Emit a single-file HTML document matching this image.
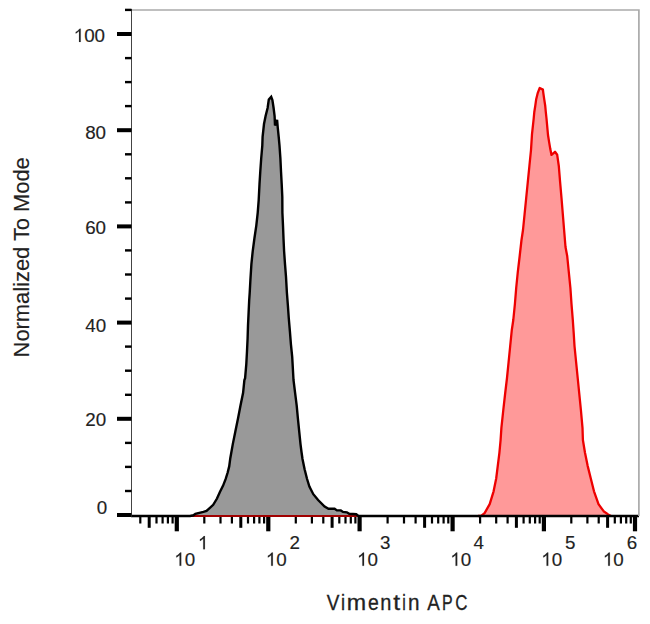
<!DOCTYPE html>
<html><head><meta charset="utf-8"><style>
html,body{margin:0;padding:0;background:#fff;width:650px;height:624px;overflow:hidden}
svg{display:block;font-family:"Liberation Sans",sans-serif}
</style></head><body>
<svg width="650" height="624" viewBox="0 0 650 624">
<rect x="131.5" y="10" width="507.5" height="506" fill="#fff" stroke="none"/>
<polygon points="131.0,516.0 190.0,516.0 193.5,515.3 195.4,513.8 203.4,511.9 206.5,511.0 213.2,504.8 217.0,498.5 219.9,492.0 223.1,485.6 225.6,479.2 227.6,472.8 229.2,466.4 230.3,458.2 232.8,444.1 235.4,431.3 238.0,418.5 240.5,405.6 243.1,392.8 244.4,380.0 245.1,378.2 246.3,364.1 247.0,351.3 247.6,338.5 248.0,325.6 248.6,312.8 249.2,300.0 249.7,292.8 250.4,280.0 251.4,264.1 252.7,251.3 254.4,238.5 256.3,225.6 257.7,212.8 258.7,200.0 259.5,184.1 260.3,171.3 261.2,158.5 262.3,145.6 262.6,136.9 264.0,124.0 265.6,116.0 267.6,108.0 268.8,99.6 271.2,96.8 272.4,100.0 273.6,108.0 274.6,116.0 275.0,125.5 277.1,119.8 277.8,128.0 278.7,136.9 279.5,145.6 280.4,158.5 281.0,171.3 281.7,184.1 282.3,196.9 282.4,212.8 283.0,225.6 283.5,238.5 284.1,251.3 285.0,264.1 286.0,276.9 286.9,292.8 287.9,305.6 288.8,318.5 289.9,331.3 290.9,344.1 292.2,356.9 293.5,380.0 295.1,392.8 296.7,405.6 297.9,418.5 299.2,431.3 300.5,444.1 301.5,452.0 302.5,459.0 304.6,469.2 307.0,478.8 309.4,486.5 313.3,494.2 318.1,500.0 324.6,506.5 328.5,508.8 334.6,508.8 336.9,510.4 340.8,510.4 343.0,511.9 346.9,512.3 349.2,513.8 356.2,514.2 358.5,516.0 365.0,516.0 639.0,516.0" fill="#999999" stroke="none"/>
<polygon points="131.0,516.0 478.0,516.0 481.4,515.6 484.6,513.1 489.7,504.1 493.6,491.3 496.2,478.5 497.8,465.6 499.4,452.8 500.6,440.0 501.4,427.8 503.3,410.0 505.1,394.0 507.0,378.0 508.6,362.0 510.2,346.0 511.8,330.0 513.3,320.0 514.9,304.0 516.2,288.0 517.8,272.0 519.7,256.0 521.5,240.0 523.0,230.0 524.6,214.0 526.2,198.0 527.8,182.0 529.4,166.0 531.0,150.0 532.0,134.1 533.7,118.5 534.3,112.0 535.3,105.6 536.2,99.2 537.8,92.8 539.7,88.0 542.9,89.6 543.3,92.8 544.2,99.2 545.2,105.6 545.8,112.0 546.5,118.5 548.0,135.0 549.0,141.4 550.3,149.1 551.5,154.9 555.0,151.8 557.2,154.8 558.8,166.0 560.1,182.0 561.5,198.0 562.8,214.0 564.1,230.0 565.5,247.0 567.2,256.0 568.8,272.0 570.4,288.0 571.5,304.0 572.8,320.0 573.7,333.0 574.5,346.0 576.1,362.0 577.7,378.0 579.3,394.0 580.9,410.0 582.5,427.8 582.9,440.0 585.0,452.8 587.6,465.6 590.8,478.5 594.0,491.3 598.5,504.1 603.6,511.2 608.1,514.4 611.0,516.0 639.0,516.0" fill="#ff9999" stroke="none"/>
<line x1="131" y1="516" x2="639" y2="516" stroke="#a00000" stroke-width="2.1"/>
<polyline points="478.0,516.0 481.4,515.6 484.6,513.1 489.7,504.1 493.6,491.3 496.2,478.5 497.8,465.6 499.4,452.8 500.6,440.0 501.4,427.8 503.3,410.0 505.1,394.0 507.0,378.0 508.6,362.0 510.2,346.0 511.8,330.0 513.3,320.0 514.9,304.0 516.2,288.0 517.8,272.0 519.7,256.0 521.5,240.0 523.0,230.0 524.6,214.0 526.2,198.0 527.8,182.0 529.4,166.0 531.0,150.0 532.0,134.1 533.7,118.5 534.3,112.0 535.3,105.6 536.2,99.2 537.8,92.8 539.7,88.0 542.9,89.6 543.3,92.8 544.2,99.2 545.2,105.6 545.8,112.0 546.5,118.5 548.0,135.0 549.0,141.4 550.3,149.1 551.5,154.9 555.0,151.8 557.2,154.8 558.8,166.0 560.1,182.0 561.5,198.0 562.8,214.0 564.1,230.0 565.5,247.0 567.2,256.0 568.8,272.0 570.4,288.0 571.5,304.0 572.8,320.0 573.7,333.0 574.5,346.0 576.1,362.0 577.7,378.0 579.3,394.0 580.9,410.0 582.5,427.8 582.9,440.0 585.0,452.8 587.6,465.6 590.8,478.5 594.0,491.3 598.5,504.1 603.6,511.2 608.1,514.4 611.0,516.0" fill="none" stroke="#ee0000" stroke-width="2.3" stroke-linejoin="round"/>
<polyline points="131.0,516.0 190.0,516.0 193.5,515.3 195.4,513.8 203.4,511.9 206.5,511.0 213.2,504.8 217.0,498.5 219.9,492.0 223.1,485.6 225.6,479.2 227.6,472.8 229.2,466.4 230.3,458.2 232.8,444.1 235.4,431.3 238.0,418.5 240.5,405.6 243.1,392.8 244.4,380.0 245.1,378.2 246.3,364.1 247.0,351.3 247.6,338.5 248.0,325.6 248.6,312.8 249.2,300.0 249.7,292.8 250.4,280.0 251.4,264.1 252.7,251.3 254.4,238.5 256.3,225.6 257.7,212.8 258.7,200.0 259.5,184.1 260.3,171.3 261.2,158.5 262.3,145.6 262.6,136.9 264.0,124.0 265.6,116.0 267.6,108.0 268.8,99.6 271.2,96.8 272.4,100.0 273.6,108.0 274.6,116.0 275.0,125.5 277.1,119.8 277.8,128.0 278.7,136.9 279.5,145.6 280.4,158.5 281.0,171.3 281.7,184.1 282.3,196.9 282.4,212.8 283.0,225.6 283.5,238.5 284.1,251.3 285.0,264.1 286.0,276.9 286.9,292.8 287.9,305.6 288.8,318.5 289.9,331.3 290.9,344.1 292.2,356.9 293.5,380.0 295.1,392.8 296.7,405.6 297.9,418.5 299.2,431.3 300.5,444.1 301.5,452.0 302.5,459.0 304.6,469.2 307.0,478.8 309.4,486.5 313.3,494.2 318.1,500.0 324.6,506.5 328.5,508.8 334.6,508.8 336.9,510.4 340.8,510.4 343.0,511.9 346.9,512.3 349.2,513.8 356.2,514.2 358.5,516.0 365.0,516.0 639.0,516.0" fill="none" stroke="#000" stroke-width="2.4" stroke-linejoin="miter" stroke-miterlimit="3"/>
<path d="M131 10 H638.9 V516" fill="none" stroke="#aaaaaa" stroke-width="1.7"/>
<line x1="131.5" y1="9" x2="131.5" y2="517" stroke="#444" stroke-width="1"/>
<rect x="117" y="513.0" width="14.5" height="4" fill="#000"/>
<rect x="125" y="489.8" width="6.5" height="2.4" fill="#000"/>
<rect x="125" y="465.7" width="6.5" height="2.4" fill="#000"/>
<rect x="125" y="441.7" width="6.5" height="2.4" fill="#000"/>
<rect x="117" y="416.8" width="14.5" height="4" fill="#000"/>
<rect x="125" y="393.6" width="6.5" height="2.4" fill="#000"/>
<rect x="125" y="369.5" width="6.5" height="2.4" fill="#000"/>
<rect x="125" y="345.4" width="6.5" height="2.4" fill="#000"/>
<rect x="117" y="320.6" width="14.5" height="4" fill="#000"/>
<rect x="125" y="297.4" width="6.5" height="2.4" fill="#000"/>
<rect x="125" y="273.3" width="6.5" height="2.4" fill="#000"/>
<rect x="125" y="249.2" width="6.5" height="2.4" fill="#000"/>
<rect x="117" y="224.4" width="14.5" height="4" fill="#000"/>
<rect x="125" y="201.2" width="6.5" height="2.4" fill="#000"/>
<rect x="125" y="177.1" width="6.5" height="2.4" fill="#000"/>
<rect x="125" y="153.1" width="6.5" height="2.4" fill="#000"/>
<rect x="117" y="128.2" width="14.5" height="4" fill="#000"/>
<rect x="125" y="104.9" width="6.5" height="2.4" fill="#000"/>
<rect x="125" y="80.9" width="6.5" height="2.4" fill="#000"/>
<rect x="125" y="56.9" width="6.5" height="2.4" fill="#000"/>
<rect x="117" y="32.0" width="14.5" height="4" fill="#000"/>
<rect x="125" y="8.7" width="6.5" height="2.4" fill="#000"/>
<rect x="139.2" y="517" width="2.2" height="6.5" fill="#000"/>
<rect x="147.7" y="517" width="3" height="10.8" fill="#000"/>
<rect x="155.4" y="517" width="2.2" height="6.5" fill="#000"/>
<rect x="161.5" y="517" width="2.2" height="6.5" fill="#000"/>
<rect x="166.8" y="517" width="2.2" height="6.5" fill="#000"/>
<rect x="171.5" y="517" width="2.2" height="6.5" fill="#000"/>
<rect x="174.7" y="517" width="4.2" height="14.3" fill="#000"/>
<rect x="203.2" y="517" width="2.2" height="6.5" fill="#000"/>
<rect x="219.4" y="517" width="2.2" height="6.5" fill="#000"/>
<rect x="230.8" y="517" width="2.2" height="6.5" fill="#000"/>
<rect x="239.3" y="517" width="3" height="10.8" fill="#000"/>
<rect x="246.9" y="517" width="2.2" height="6.5" fill="#000"/>
<rect x="253.0" y="517" width="2.2" height="6.5" fill="#000"/>
<rect x="258.3" y="517" width="2.2" height="6.5" fill="#000"/>
<rect x="263.0" y="517" width="2.2" height="6.5" fill="#000"/>
<rect x="266.2" y="517" width="4.2" height="14.3" fill="#000"/>
<rect x="294.7" y="517" width="2.2" height="6.5" fill="#000"/>
<rect x="310.8" y="517" width="2.2" height="6.5" fill="#000"/>
<rect x="322.2" y="517" width="2.2" height="6.5" fill="#000"/>
<rect x="330.6" y="517" width="3" height="10.8" fill="#000"/>
<rect x="338.2" y="517" width="2.2" height="6.5" fill="#000"/>
<rect x="344.4" y="517" width="2.2" height="6.5" fill="#000"/>
<rect x="349.7" y="517" width="2.2" height="6.5" fill="#000"/>
<rect x="354.3" y="517" width="2.2" height="6.5" fill="#000"/>
<rect x="357.5" y="517" width="4.2" height="14.3" fill="#000"/>
<rect x="386.5" y="517" width="2.2" height="6.5" fill="#000"/>
<rect x="402.9" y="517" width="2.2" height="6.5" fill="#000"/>
<rect x="414.5" y="517" width="2.2" height="6.5" fill="#000"/>
<rect x="423.1" y="517" width="3" height="10.8" fill="#000"/>
<rect x="430.9" y="517" width="2.2" height="6.5" fill="#000"/>
<rect x="437.1" y="517" width="2.2" height="6.5" fill="#000"/>
<rect x="442.5" y="517" width="2.2" height="6.5" fill="#000"/>
<rect x="447.2" y="517" width="2.2" height="6.5" fill="#000"/>
<rect x="450.5" y="517" width="4.2" height="14.3" fill="#000"/>
<rect x="479.0" y="517" width="2.2" height="6.5" fill="#000"/>
<rect x="495.1" y="517" width="2.2" height="6.5" fill="#000"/>
<rect x="506.5" y="517" width="2.2" height="6.5" fill="#000"/>
<rect x="514.9" y="517" width="3" height="10.8" fill="#000"/>
<rect x="522.5" y="517" width="2.2" height="6.5" fill="#000"/>
<rect x="528.7" y="517" width="2.2" height="6.5" fill="#000"/>
<rect x="534.0" y="517" width="2.2" height="6.5" fill="#000"/>
<rect x="538.6" y="517" width="2.2" height="6.5" fill="#000"/>
<rect x="541.8" y="517" width="4.2" height="14.3" fill="#000"/>
<rect x="570.2" y="517" width="2.2" height="6.5" fill="#000"/>
<rect x="586.3" y="517" width="2.2" height="6.5" fill="#000"/>
<rect x="597.6" y="517" width="2.2" height="6.5" fill="#000"/>
<rect x="606.1" y="517" width="3" height="10.8" fill="#000"/>
<rect x="613.7" y="517" width="2.2" height="6.5" fill="#000"/>
<rect x="619.8" y="517" width="2.2" height="6.5" fill="#000"/>
<rect x="625.1" y="517" width="2.2" height="6.5" fill="#000"/>
<rect x="629.7" y="517" width="2.2" height="6.5" fill="#000"/>
<rect x="632.9" y="517" width="4.2" height="14.3" fill="#000"/>
<path transform="translate(73.67,41.90) scale(0.00918,-0.00918)" d="M763 0H583V1147C518 1085 432 1024 341 971C301 948 262 930 223 916V1090C330 1140 421 1202 497 1272C573 1342 627 1407 658 1436H763Z" fill="#222222" stroke="#222222" stroke-width="16.3"/>
<text x="84.13" y="41.90" font-size="18.8" fill="#222222" stroke="#222222" stroke-width="0.15">0</text>
<text x="94.58" y="41.90" font-size="18.8" fill="#222222" stroke="#222222" stroke-width="0.15">0</text>
<text x="85.13" y="138.60" font-size="18.8" fill="#222222" stroke="#222222" stroke-width="0.15">8</text>
<text x="95.58" y="138.60" font-size="18.8" fill="#222222" stroke="#222222" stroke-width="0.15">0</text>
<text x="85.13" y="233.80" font-size="18.8" fill="#222222" stroke="#222222" stroke-width="0.15">6</text>
<text x="95.58" y="233.80" font-size="18.8" fill="#222222" stroke="#222222" stroke-width="0.15">0</text>
<text x="85.23" y="331.50" font-size="18.8" fill="#222222" stroke="#222222" stroke-width="0.15">4</text>
<text x="95.68" y="331.50" font-size="18.8" fill="#222222" stroke="#222222" stroke-width="0.15">0</text>
<text x="85.23" y="426.30" font-size="18.8" fill="#222222" stroke="#222222" stroke-width="0.15">2</text>
<text x="95.68" y="426.30" font-size="18.8" fill="#222222" stroke="#222222" stroke-width="0.15">0</text>
<text x="96.68" y="514.10" font-size="18.8" fill="#222222" stroke="#222222" stroke-width="0.15">0</text>
<path transform="translate(174.23,565.80) scale(0.00918,-0.00918)" d="M763 0H583V1147C518 1085 432 1024 341 971C301 948 262 930 223 916V1090C330 1140 421 1202 497 1272C573 1342 627 1407 658 1436H763Z" fill="#222222" stroke="#222222" stroke-width="16.3"/>
<text x="184.68" y="565.80" font-size="18.8" fill="#222222" stroke="#222222" stroke-width="0.15">0</text>
<path transform="translate(197.90,549.30) scale(0.00918,-0.00918)" d="M763 0H583V1147C518 1085 432 1024 341 971C301 948 262 930 223 916V1090C330 1140 421 1202 497 1272C573 1342 627 1407 658 1436H763Z" fill="#222222" stroke="#222222" stroke-width="16.3"/>
<path transform="translate(265.83,565.80) scale(0.00918,-0.00918)" d="M763 0H583V1147C518 1085 432 1024 341 971C301 948 262 930 223 916V1090C330 1140 421 1202 497 1272C573 1342 627 1407 658 1436H763Z" fill="#222222" stroke="#222222" stroke-width="16.3"/>
<text x="276.28" y="565.80" font-size="18.8" fill="#222222" stroke="#222222" stroke-width="0.15">0</text>
<text x="289.39" y="549.30" font-size="18.8" fill="#222222" stroke="#222222" stroke-width="0.15">2</text>
<path transform="translate(357.03,565.80) scale(0.00918,-0.00918)" d="M763 0H583V1147C518 1085 432 1024 341 971C301 948 262 930 223 916V1090C330 1140 421 1202 497 1272C573 1342 627 1407 658 1436H763Z" fill="#222222" stroke="#222222" stroke-width="16.3"/>
<text x="367.48" y="565.80" font-size="18.8" fill="#222222" stroke="#222222" stroke-width="0.15">0</text>
<text x="379.97" y="549.30" font-size="18.8" fill="#222222" stroke="#222222" stroke-width="0.15">3</text>
<path transform="translate(450.23,565.80) scale(0.00918,-0.00918)" d="M763 0H583V1147C518 1085 432 1024 341 971C301 948 262 930 223 916V1090C330 1140 421 1202 497 1272C573 1342 627 1407 658 1436H763Z" fill="#222222" stroke="#222222" stroke-width="16.3"/>
<text x="460.68" y="565.80" font-size="18.8" fill="#222222" stroke="#222222" stroke-width="0.15">0</text>
<text x="473.40" y="549.30" font-size="18.8" fill="#222222" stroke="#222222" stroke-width="0.15">4</text>
<path transform="translate(541.23,565.80) scale(0.00918,-0.00918)" d="M763 0H583V1147C518 1085 432 1024 341 971C301 948 262 930 223 916V1090C330 1140 421 1202 497 1272C573 1342 627 1407 658 1436H763Z" fill="#222222" stroke="#222222" stroke-width="16.3"/>
<text x="551.68" y="565.80" font-size="18.8" fill="#222222" stroke="#222222" stroke-width="0.15">0</text>
<text x="564.93" y="549.30" font-size="18.8" fill="#222222" stroke="#222222" stroke-width="0.15">5</text>
<path transform="translate(602.83,565.80) scale(0.00918,-0.00918)" d="M763 0H583V1147C518 1085 432 1024 341 971C301 948 262 930 223 916V1090C330 1140 421 1202 497 1272C573 1342 627 1407 658 1436H763Z" fill="#222222" stroke="#222222" stroke-width="16.3"/>
<text x="613.28" y="565.80" font-size="18.8" fill="#222222" stroke="#222222" stroke-width="0.15">0</text>
<text x="626.67" y="549.30" font-size="18.8" fill="#222222" stroke="#222222" stroke-width="0.15">6</text>
<text transform="translate(29,357.4) rotate(-90)" font-size="21.7" fill="#222222" stroke="#222222" stroke-width="0.15" textLength="200.2" lengthAdjust="spacingAndGlyphs">Normalized To Mode</text>
<text transform="translate(326.72,609.9) scale(0.896,1)" font-size="21.2" fill="#222222" stroke="#222222" stroke-width="0.3">V</text>
<text transform="translate(341.08,609.9) scale(0.859,1)" font-size="21.2" fill="#222222" stroke="#222222" stroke-width="0.3">i</text>
<text transform="translate(346.76,609.9) scale(1.097,1)" font-size="21.2" fill="#222222" stroke="#222222" stroke-width="0.3">m</text>
<text transform="translate(367.88,609.9) scale(0.915,1)" font-size="21.2" fill="#222222" stroke="#222222" stroke-width="0.3">e</text>
<text transform="translate(380.17,609.9) scale(0.944,1)" font-size="21.2" fill="#222222" stroke="#222222" stroke-width="0.3">n</text>
<text transform="translate(393.13,609.9) scale(1.164,1)" font-size="21.2" fill="#222222" stroke="#222222" stroke-width="0.3">t</text>
<text transform="translate(402.33,609.9) scale(0.751,1)" font-size="21.2" fill="#222222" stroke="#222222" stroke-width="0.3">i</text>
<text transform="translate(407.92,609.9) scale(0.977,1)" font-size="21.2" fill="#222222" stroke="#222222" stroke-width="0.3">n</text>
<text transform="translate(427.16,609.9) scale(0.889,1)" font-size="21.2" fill="#222222" stroke="#222222" stroke-width="0.3">A</text>
<text transform="translate(442.09,609.9) scale(0.753,1)" font-size="21.2" fill="#222222" stroke="#222222" stroke-width="0.3">P</text>
<text transform="translate(455.14,609.9) scale(0.797,1)" font-size="21.2" fill="#222222" stroke="#222222" stroke-width="0.3">C</text>
</svg>
</body></html>
